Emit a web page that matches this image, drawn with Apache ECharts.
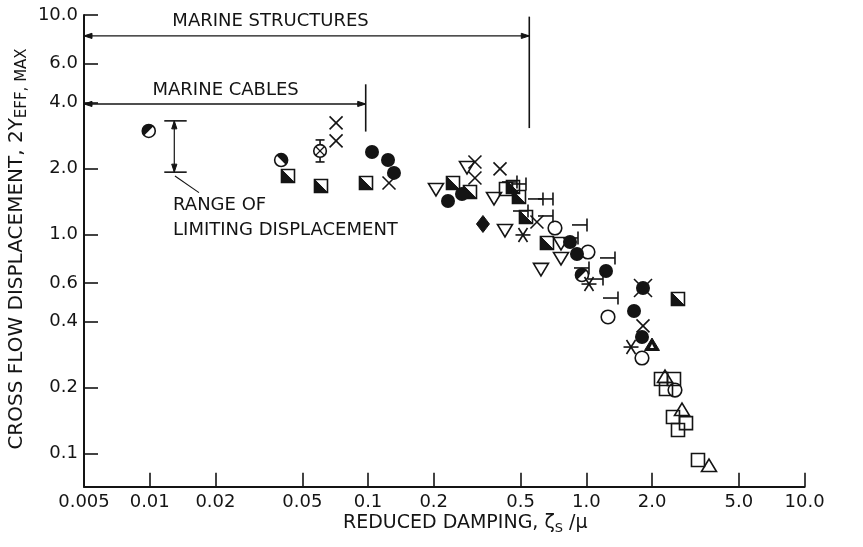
<!DOCTYPE html>
<html>
<head>
<meta charset="utf-8">
<script src="https://cdn.jsdelivr.net/npm/echarts@6/dist/echarts.min.js"></script>
<style>
  html, body { margin: 0; padding: 0; background: #fff; }
  #chart { width: 863px; height: 547px; }
</style>
</head>
<body>
<div id="chart"></div>
<script>
// ---- Axes (log-log) ----
const xTickValues = [0.005, 0.01, 0.02, 0.05, 0.1, 0.2, 0.5, 1, 2, 5, 10];
const xTickLabels = ['0.005', '0.01', '0.02', '0.05', '0.1', '0.2', '0.5', '1.0', '2.0', '5.0', '10.0'];
const yTickValues = [0.1, 0.2, 0.4, 0.6, 1, 2, 4, 6, 10];
const yTickLabels = ['0.1', '0.2', '0.4', '0.6', '1.0', '2.0', '4.0', '6.0', '10.0'];
const xRange = [0.005, 10];
const yRange = [0.0706, 10];

// ---- Measurements: [reduced damping, 2Y_eff,max] ----
const halfCirclesLeft = [[0.0099, 2.96], [0.955, 0.652]];
const halfCirclesRight = [[0.040, 2.18]];
const halfSquares = [[0.043, 1.845], [0.0609, 1.661], [0.0979, 1.714], [0.2451, 1.714], [0.2932, 1.56],
  [0.4614, 1.644], [0.4916, 1.48], [0.5293, 1.199], [0.6604, 0.913], [2.63, 0.507]];
const filledCircles = [[0.1043, 2.374], [0.1235, 2.183], [0.1315, 1.905], [0.2325, 1.419], [0.2695, 1.527],
  [0.8419, 0.922], [0.9065, 0.813], [1.2309, 0.680], [1.8182, 0.569], [1.6542, 0.447], [1.7991, 0.340]];
const crosses = [[0.0714, 3.22], [0.0714, 2.665], [0.1248, 1.714], [0.309, 2.137], [0.309, 1.806],
  [0.4024, 1.986], [0.5942, 1.138], [1.8182, 0.382]];
const largeCrosses = [[1.8182, 0.569]];
const asterisks = [[0.5128, 0.993], [1.0287, 0.593], [1.6026, 0.306]];
const openCircles = [[0.7186, 1.068], [1.0179, 0.830], [1.2572, 0.4195], [1.7991, 0.2727], [2.5483, 0.1948]];
const trianglesDown = [[0.2048, 1.609], [0.2841, 2.028], [0.3777, 1.464], [0.4241, 1.046], [0.6199, 0.695],
  [0.7657, 0.913], [0.7657, 0.780]];
const diamonds = [[0.3362, 1.114]];
const filledTriangles = [[1.9994, 0.3126]];
const openSquares = [[0.4286, 1.609], [2.1986, 0.2186], [2.5216, 0.2186], [2.3178, 0.1968],
  [2.4951, 0.1467], [2.8621, 0.1377], [2.6303, 0.128], [3.2478, 0.0934]];
const trianglesUp = [[2.2935, 0.2234], [2.7438, 0.1579], [3.6475, 0.0877]];
const limitMarks = [[0.4813, 1.732], [0.5293, 1.696], [0.6331, 1.449], [0.7036, 1.449], [0.5406, 1.277],
  [0.7036, 1.212], [0.9161, 0.962], [1.0073, 1.103], [1.3532, 0.780], [1.0287, 0.702], [1.1925, 0.625],
  [1.3968, 0.512]];
// [x, y, low, high]
const crossedCircleRange = [[0.0603, 2.399, 2.137, 2.693]];

// ---- Annotations ----
const spanNames = ['MARINE STRUCTURES', 'MARINE CABLES'];
const spanLevels = [8.03, 3.93];
const spanEnds = [0.548, 0.0976];
const spanBars = [[9.83, 3.05], [4.83, 2.94]];
const spanNameAt = [[0.0127, 9.40], [0.0103, 4.55]];
const limitRange = { x: 0.01296, top: 3.29, bottom: 1.92, capFrom: 0.01166, capTo: 0.01477 };
const limitLeader = [[0.01305, 1.845], [0.01682, 1.548]];
const limitText = ['RANGE OF', 'LIMITING DISPLACEMENT'];
const limitTextAt = [[0.01279, 1.36], [0.01279, 1.046]];

const INK = '#141414';
const LW = 1.6;
const FONT = '"DejaVu Sans", "Liberation Sans", sans-serif';
const lg = Math.log10;

function seg(x1, y1, x2, y2, w) {
  return { type: 'line', shape: { x1, y1, x2, y2 }, style: { stroke: INK, lineWidth: w || LW } };
}
function poly(points, filled) {
  return { type: 'polygon', shape: { points },
    style: filled ? { fill: INK, stroke: INK, lineWidth: 1 } : { fill: 'none', stroke: INK, lineWidth: LW } };
}
function ring(cx, cy, r) {
  return { type: 'circle', shape: { cx, cy, r }, style: { fill: 'none', stroke: INK, lineWidth: LW } };
}
function arrowHead(x, y, dx, dy) {
  // dx,dy: unit direction of the tip
  const L = 8, W = 2.6;
  return poly([[x, y], [x - dx * L - dy * W, y - dy * L + dx * W], [x - dx * L + dy * W, y - dy * L - dx * W]], true);
}

const glyphs = {
  halfLeft: (x, y) => ({ type: 'group', children: [
    { type: 'sector', shape: { cx: x, cy: y, r0: 0, r: 6.5, startAngle: 0.75 * Math.PI, endAngle: 1.75 * Math.PI, clockwise: true }, style: { fill: INK } },
    ring(x, y, 6.5)] }),
  halfRight: (x, y) => ({ type: 'group', children: [
    { type: 'sector', shape: { cx: x, cy: y, r0: 0, r: 6.5, startAngle: 1.25 * Math.PI, endAngle: 2.25 * Math.PI, clockwise: true }, style: { fill: INK } },
    ring(x, y, 6.5)] }),
  halfSquare: (x, y) => ({ type: 'group', children: [
    poly([[x - 6.5, y - 6.5], [x - 6.5, y + 6.5], [x + 6.5, y + 6.5]], true),
    { type: 'rect', shape: { x: x - 6.5, y: y - 6.5, width: 13, height: 13 }, style: { fill: 'none', stroke: INK, lineWidth: LW } }] }),
  filledCircle: (x, y) => ({ type: 'circle', shape: { cx: x, cy: y, r: 7 }, style: { fill: INK } }),
  cross: (x, y) => ({ type: 'group', children: [seg(x - 6.5, y - 6.5, x + 6.5, y + 6.5), seg(x - 6.5, y + 6.5, x + 6.5, y - 6.5)] }),
  largeCross: (x, y) => ({ type: 'group', children: [seg(x - 9, y - 9, x + 9, y + 9), seg(x - 9, y + 9, x + 9, y - 9)] }),
  asterisk: (x, y) => ({ type: 'group', children: [
    seg(x - 7.5, y, x + 7.5, y), seg(x - 4.5, y - 7, x + 4.5, y + 7), seg(x - 4.5, y + 7, x + 4.5, y - 7)] }),
  openCircle: (x, y) => ring(x, y, 6.8),
  triangleDown: (x, y) => poly([[x - 7.5, y - 5.5], [x + 7.5, y - 5.5], [x, y + 7]], false),
  triangleUp: (x, y) => poly([[x - 7.5, y + 5.5], [x + 7.5, y + 5.5], [x, y - 7]], false),
  filledTriangle: (x, y) => ({ type: 'group', children: [
    poly([[x - 7.5, y + 5.5], [x + 7.5, y + 5.5], [x, y - 7]], true),
    { type: 'polygon', shape: { points: [[x - 2, y + 3], [x + 2, y + 3], [x, y - 1]] }, style: { fill: '#fff' } }] }),
  diamond: (x, y) => poly([[x, y - 8.5], [x + 6.5, y], [x, y + 8.5], [x - 6.5, y]], true),
  openSquare: (x, y) => ({ type: 'rect', shape: { x: x - 6.5, y: y - 6.5, width: 13, height: 13 }, style: { fill: 'none', stroke: INK, lineWidth: LW } }),
  limitMark: (x, y) => ({ type: 'group', children: [seg(x - 15, y, x, y), seg(x, y - 6.5, x, y + 6.5)] })
};

function glyphSeries(data, kind) {
  return {
    type: 'custom',
    coordinateSystem: 'cartesian2d',
    silent: true,
    clip: false,
    data: data.map(d => [lg(d[0]), lg(d[1])]),
    renderItem: (params, api) => {
      const p = api.coord([api.value(0), api.value(1)]);
      return glyphs[kind](p[0], p[1]);
    }
  };
}

// circle with an X inside, carrying a vertical range bar
const crossedCircleSeries = {
  type: 'custom',
  coordinateSystem: 'cartesian2d',
  silent: true,
  clip: false,
  data: crossedCircleRange.map(d => d.map(lg)),
  renderItem: (params, api) => {
    const p = api.coord([api.value(0), api.value(1)]);
    const lo = api.coord([api.value(0), api.value(2)]);
    const hi = api.coord([api.value(0), api.value(3)]);
    const r = 6.3, k = r * 0.7;
    return { type: 'group', children: [
      seg(p[0], lo[1], p[0], hi[1]),
      seg(p[0] - 4.5, lo[1], p[0] + 4.5, lo[1]),
      seg(p[0] - 4.5, hi[1], p[0] + 4.5, hi[1]),
      { type: 'circle', shape: { cx: p[0], cy: p[1], r }, style: { fill: '#fff', stroke: INK, lineWidth: LW } },
      seg(p[0] - k, p[1] - k, p[0] + k, p[1] + k, 1.3),
      seg(p[0] - k, p[1] + k, p[0] + k, p[1] - k, 1.3)
    ] };
  }
};

function label(text, at, api) {
  const p = api.coord([lg(at[0]), lg(at[1])]);
  return { type: 'text', x: p[0], y: p[1],
    style: { text, fill: INK, font: '18px ' + FONT, align: 'left', verticalAlign: 'middle' } };
}

// application ranges and the limiting-displacement bracket
const annotationSeries = {
  type: 'custom',
  coordinateSystem: 'cartesian2d',
  silent: true,
  clip: false,
  data: [[0, 0]],
  renderItem: (params, api) => {
    const c = (x, y) => api.coord([lg(x), lg(y)]);
    const kids = [];
    spanNames.forEach((name, i) => {
      const a = c(xRange[0], spanLevels[i]);
      const b = c(spanEnds[i], spanLevels[i]);
      const t = c(spanEnds[i], spanBars[i][0]);
      const u = c(spanEnds[i], spanBars[i][1]);
      kids.push(seg(a[0], a[1], b[0], b[1], 1.4));
      kids.push(arrowHead(a[0], a[1], -1, 0));
      kids.push(arrowHead(b[0], b[1], 1, 0));
      kids.push(seg(t[0], t[1], u[0], u[1], 1.6));
      kids.push(label(name, spanNameAt[i], api));
    });
    const top = c(limitRange.x, limitRange.top);
    const bot = c(limitRange.x, limitRange.bottom);
    const c1 = c(limitRange.capFrom, limitRange.top), c2 = c(limitRange.capTo, limitRange.top);
    const c3 = c(limitRange.capFrom, limitRange.bottom), c4 = c(limitRange.capTo, limitRange.bottom);
    kids.push(seg(top[0], top[1], bot[0], bot[1], 1.2));
    kids.push(arrowHead(top[0], top[1], 0, -1));
    kids.push(arrowHead(bot[0], bot[1], 0, 1));
    kids.push(seg(c1[0], c1[1], c2[0], c2[1], 1.6));
    kids.push(seg(c3[0], c3[1], c4[0], c4[1], 1.6));
    const l1 = c(limitLeader[0][0], limitLeader[0][1]), l2 = c(limitLeader[1][0], limitLeader[1][1]);
    kids.push(seg(l1[0], l1[1], l2[0], l2[1], 1.1));
    limitText.forEach((t, i) => kids.push(label(t, limitTextAt[i], api)));
    return { type: 'group', children: kids };
  }
};

function tickFormatter(values, labels) {
  return v => {
    for (let i = 0; i < values.length; i++) {
      if (Math.abs(lg(values[i]) - v) < 1e-6) return labels[i];
    }
    return '';
  };
}

const axisCommon = {
  type: 'value',
  axisLine: { show: true, onZero: false, lineStyle: { color: INK, width: 2 } },
  splitLine: { show: false }
};

const chart = echarts.init(document.getElementById('chart'), null, { renderer: 'canvas' });
chart.setOption({
  backgroundColor: '#fff',
  animation: false,
  grid: { left: 84, right: 58.4, top: 15, bottom: 60.3, containLabel: false },
  xAxis: Object.assign({}, axisCommon, {
    min: lg(xRange[0]), max: lg(xRange[1]),
    axisTick: { show: true, inside: true, length: 14, customValues: xTickValues.map(lg), lineStyle: { color: INK, width: 1.6 } },
    axisLabel: { customValues: xTickValues.map(lg), formatter: tickFormatter(xTickValues, xTickLabels),
      color: INK, fontFamily: FONT, fontSize: 18, margin: 7, showMinLabel: true, showMaxLabel: true, hideOverlap: false }
  }),
  yAxis: Object.assign({}, axisCommon, {
    min: lg(yRange[0]), max: lg(yRange[1]),
    axisTick: { show: true, inside: true, length: 14, customValues: yTickValues.map(lg), lineStyle: { color: INK, width: 1.6 } },
    axisLabel: { customValues: yTickValues.map(lg), formatter: tickFormatter(yTickValues, yTickLabels),
      color: INK, fontFamily: FONT, fontSize: 18, margin: 6, showMinLabel: true, showMaxLabel: true, hideOverlap: false }
  }),
  graphic: [
    {
      type: 'text', x: 17, y: 249, rotation: Math.PI / 2,
      style: {
        text: '{a|CROSS FLOW DISPLACEMENT, 2Y}{b|EFF, MAX}',
        align: 'center', verticalAlign: 'middle', fill: INK,
        rich: {
          a: { fontFamily: FONT, fontSize: 20, lineHeight: 26, fill: INK },
          b: { fontFamily: FONT, fontSize: 15, lineHeight: 17, verticalAlign: 'bottom', fill: INK }
        }
      }
    },
    {
      type: 'text', x: 343, y: 523,
      style: {
        text: '{a|REDUCED DAMPING, ζ}{b|S}{a| /μ}',
        align: 'left', verticalAlign: 'middle', fill: INK,
        rich: {
          a: { fontFamily: FONT, fontSize: 19, lineHeight: 24, fill: INK },
          b: { fontFamily: FONT, fontSize: 13, lineHeight: 15, verticalAlign: 'bottom', fill: INK }
        }
      }
    }
  ],
  series: [
    annotationSeries,
    glyphSeries(halfCirclesLeft, 'halfLeft'),
    glyphSeries(halfCirclesRight, 'halfRight'),
    glyphSeries(halfSquares, 'halfSquare'),
    glyphSeries(filledCircles, 'filledCircle'),
    glyphSeries(crosses, 'cross'),
    glyphSeries(largeCrosses, 'largeCross'),
    glyphSeries(asterisks, 'asterisk'),
    glyphSeries(openCircles, 'openCircle'),
    glyphSeries(trianglesDown, 'triangleDown'),
    glyphSeries(trianglesUp, 'triangleUp'),
    glyphSeries(filledTriangles, 'filledTriangle'),
    glyphSeries(diamonds, 'diamond'),
    glyphSeries(openSquares, 'openSquare'),
    glyphSeries(limitMarks, 'limitMark'),
    crossedCircleSeries
  ]
});
</script>
</body>
</html>
